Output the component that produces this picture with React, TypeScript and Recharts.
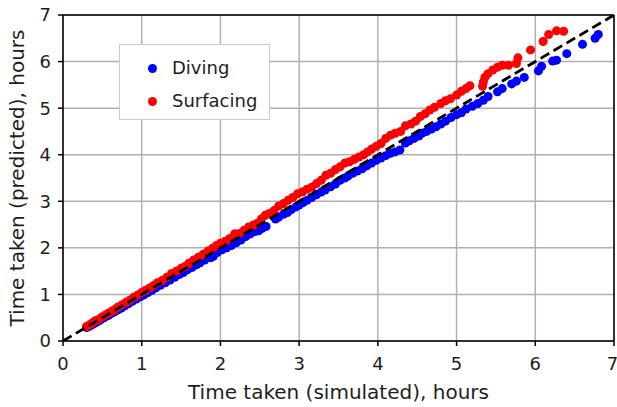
import React from "react";
import {
  CartesianGrid,
  ReferenceLine,
  Scatter,
  ScatterChart,
  XAxis,
  YAxis,
  ZAxis,
} from "recharts";

// hours
const divingSim = [
  0.3, 0.33, 0.36, 0.39, 0.42, 0.45, 0.48, 0.52, 0.55, 0.58, 0.62, 0.66, 0.7, 0.74, 0.78, 0.83, 0.88, 0.93, 0.98,
  1.03, 1.08, 1.13, 1.18, 1.24, 1.3, 1.36, 1.42, 1.48, 1.53, 1.58, 1.64, 1.7, 1.74, 1.8, 1.88, 1.91, 1.96, 2.02,
  2.08, 2.14, 2.2, 2.26, 2.32, 2.38, 2.44, 2.49, 2.53, 2.58, 2.7, 2.74, 2.8, 2.85, 2.9, 2.96, 3.0, 3.05, 3.1, 3.16,
  3.22, 3.28, 3.33, 3.4, 3.46, 3.52, 3.58, 3.62, 3.68, 3.74, 3.8, 3.86, 3.92, 3.98, 4.04, 4.1, 4.16, 4.22, 4.28,
  4.35, 4.4, 4.46, 4.52, 4.56, 4.62, 4.68, 4.74, 4.8, 4.86, 4.93, 5.0, 5.06, 5.12, 5.2, 5.27, 5.34, 5.4, 5.52, 5.58,
  5.7, 5.76, 5.86, 6.04, 6.08, 6.22, 6.27, 6.4, 6.6, 6.76, 6.8,
];
const divingPred = [
  0.29, 0.31, 0.34, 0.37, 0.4, 0.43, 0.46, 0.5, 0.53, 0.55, 0.6, 0.63, 0.67, 0.71, 0.75, 0.8, 0.85, 0.9, 0.95,
  0.99, 1.04, 1.09, 1.14, 1.2, 1.25, 1.31, 1.37, 1.43, 1.47, 1.53, 1.58, 1.64, 1.68, 1.74, 1.79, 1.82, 1.9, 1.96,
  2.0, 2.05, 2.11, 2.17, 2.24, 2.3, 2.35, 2.37, 2.42, 2.46, 2.62, 2.66, 2.72, 2.76, 2.82, 2.88, 2.92, 2.97, 3.02, 3.08,
  3.14, 3.2, 3.24, 3.31, 3.37, 3.45, 3.5, 3.54, 3.6, 3.65, 3.7, 3.76, 3.82, 3.88, 3.93, 3.98, 4.03, 4.06, 4.1,
  4.25, 4.3, 4.35, 4.4, 4.46, 4.5, 4.55, 4.6, 4.66, 4.72, 4.8, 4.86, 4.9, 4.98, 5.04, 5.1, 5.17, 5.25, 5.35, 5.42,
  5.52, 5.58, 5.66, 5.8, 5.9, 6.01, 6.03, 6.17, 6.37, 6.5, 6.58,
];
const surfacingSim = [
  0.3, 0.33, 0.36, 0.39, 0.42, 0.46, 0.5, 0.54, 0.58, 0.62, 0.66, 0.7, 0.75, 0.8, 0.85, 0.9, 0.95, 1.0, 1.05, 1.1,
  1.15, 1.2, 1.26, 1.32, 1.38, 1.44, 1.5, 1.55, 1.6, 1.66, 1.72, 1.78, 1.84, 1.9, 1.95, 2.0, 2.06, 2.12, 2.18, 2.24,
  2.3, 2.36, 2.42, 2.47, 2.52, 2.57, 2.62, 2.68, 2.74, 2.8, 2.86, 2.92, 2.98, 3.04, 3.1, 3.16, 3.22, 3.28, 3.34, 3.4,
  3.46, 3.52, 3.58, 3.64, 3.7, 3.76, 3.82, 3.87, 3.92, 3.98, 4.04, 4.1, 4.16, 4.22, 4.29, 4.35, 4.42, 4.48, 4.54,
  4.6, 4.66, 4.72, 4.8, 4.86, 4.92, 5.0, 5.06, 5.12, 5.17, 5.33, 5.34, 5.36, 5.4, 5.46, 5.52, 5.58, 5.66, 5.76, 5.78,
  5.94, 6.1, 6.17, 6.27, 6.36,
];
const surfacingPred = [
  0.31, 0.34, 0.37, 0.41, 0.44, 0.47, 0.52, 0.56, 0.6, 0.64, 0.68, 0.73, 0.78, 0.83, 0.88, 0.94, 0.99, 1.04, 1.09,
  1.14, 1.19, 1.25, 1.3, 1.37, 1.45, 1.5, 1.56, 1.6, 1.67, 1.74, 1.8, 1.86, 1.93, 1.99, 2.05, 2.1, 2.14, 2.2, 2.3,
  2.31, 2.38, 2.45, 2.49, 2.53, 2.62, 2.7, 2.74, 2.8, 2.9, 2.95, 3.02, 3.08, 3.16, 3.2, 3.26, 3.3, 3.38, 3.45, 3.56,
  3.6, 3.68, 3.74, 3.82, 3.85, 3.9, 3.95, 4.0, 4.06, 4.12, 4.18, 4.24, 4.35, 4.42, 4.46, 4.5, 4.62, 4.66, 4.72, 4.82,
  4.88, 4.96, 5.02, 5.1, 5.16, 5.2, 5.28, 5.36, 5.42, 5.48, 5.47, 5.56, 5.66, 5.74, 5.82, 5.88, 5.92, 5.92, 5.96,
  6.08, 6.25, 6.43, 6.58, 6.66, 6.65,
];
const axisTicks = [0, 1, 2, 3, 4, 5, 6, 7];
const identityLine = [
  { x: 0, y: 0 },
  { x: 7, y: 7 },
];

const diving = divingSim.map((x, i) => ({ x, y: divingPred[i] }));
const surfacing = surfacingSim.map((x, i) => ({ x, y: surfacingPred[i] }));

const BLUE = "#0000ff";
const RED = "#ff0000";
const TEXT = "#1e1e1e";

const legendItems = [
  { name: "Diving", color: BLUE, top: 67 },
  { name: "Surfacing", color: RED, top: 100 },
];

function LegendBox() {
  return (
    <div
      style={{
        position: "absolute",
        left: 119,
        top: 44,
        width: 151,
        height: 76,
        border: "1px solid #cccccc",
        background: "#fff",
        boxSizing: "border-box",
      }}
    >
      {legendItems.map((it) => (
        <div
          key={it.name}
          style={{
            position: "absolute",
            left: 0,
            top: it.top - 44 - 12,
            height: 24,
            display: "flex",
            alignItems: "center",
          }}
        >
          <span
            style={{
              width: 9,
              height: 9,
              borderRadius: "50%",
              background: it.color,
              display: "inline-block",
              marginLeft: 28,
              marginRight: 15,
            }}
          />
          <span style={{ fontSize: 18, color: TEXT, lineHeight: "24px" }}>{it.name}</span>
        </div>
      ))}
    </div>
  );
}

export default function App() {
  return (
    <div
      style={{
        position: "absolute",
        left: 0,
        top: 0,
        width: 617,
        height: 407,
        overflow: "hidden",
        fontFamily: "DejaVu Sans",
        background: "#fff",
      }}
    >
      <ScatterChart width={617} height={407} margin={{ top: 15, right: 3, left: 0, bottom: 0 }}>
        <CartesianGrid stroke="#b0b0b0" strokeWidth={1.5} />
        <XAxis
          type="number"
          dataKey="x"
          domain={[0, 7]}
          ticks={axisTicks}
          allowDataOverflow
          height={66}
          tickSize={5}
          tickMargin={11}
          stroke="#000"
          strokeWidth={1.5}
          tick={{ fontSize: 18, fill: TEXT }}
          label={{
            value: "Time taken (simulated), hours",
            position: "insideBottom",
            offset: 8,
            style: { fontSize: 20, fill: TEXT },
          }}
        />
        <YAxis
          type="number"
          dataKey="y"
          domain={[0, 7]}
          ticks={axisTicks}
          allowDataOverflow
          width={63}
          tickSize={5}
          tickMargin={7}
          stroke="#000"
          strokeWidth={1.5}
          tick={{ fontSize: 18, fill: TEXT }}
          label={{
            value: "Time taken (predicted), hours",
            angle: -90,
            position: "insideLeft",
            offset: 17,
            style: { fontSize: 20, fill: TEXT, textAnchor: "middle" },
          }}
        />
        <ZAxis range={[60, 60]} />
        <ReferenceLine y={7} stroke="#000" strokeWidth={1.5} />
        <ReferenceLine x={7} stroke="#000" strokeWidth={1.5} />
        <Scatter name="Diving" data={diving} fill={BLUE} isAnimationActive={false} />
        <Scatter name="Surfacing" data={surfacing} fill={RED} isAnimationActive={false} />
        <Scatter
          name="y = x"
          data={identityLine}
          line={{ stroke: "#000", strokeWidth: 2.8, strokeDasharray: "10 5" }}
          shape={() => <g />}
          legendType="none"
          isAnimationActive={false}
        />
      </ScatterChart>
      <LegendBox />
    </div>
  );
}
